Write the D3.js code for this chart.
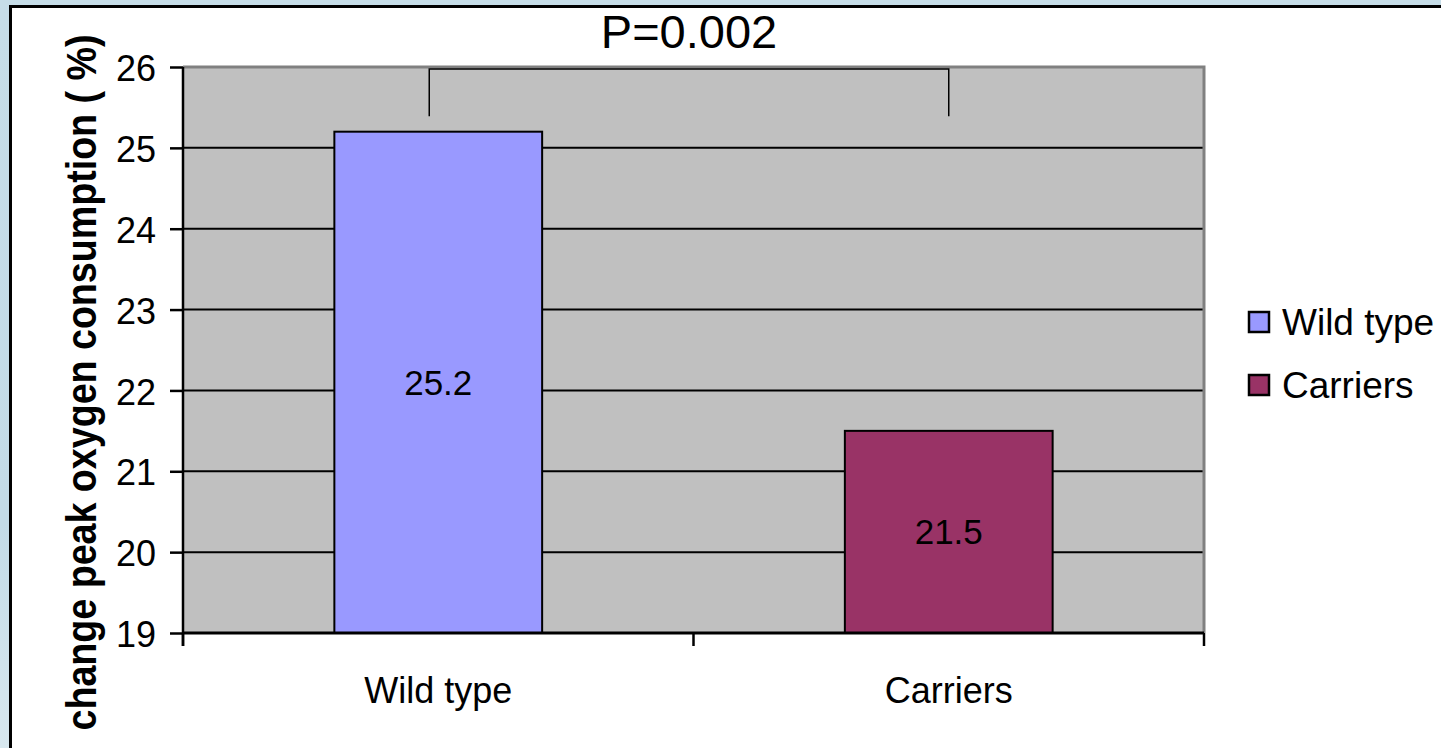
<!DOCTYPE html>
<html>
<head>
<meta charset="utf-8">
<script src="https://cdn.jsdelivr.net/npm/d3@7"></script>
<style>
  html, body { margin: 0; padding: 0; background: #c9dfe9; }
  svg { display: block; }
  text { font-family: "Liberation Sans", Arial, sans-serif; }
</style>
</head>
<body>
<svg id="chart" width="1441" height="748"></svg>
<script>
// ---- data ----
const categories = ["Wild type", "Carriers"];
const values = [25.2, 21.5];
const colors = ["#9999ff", "#993366"];
const yTicks = [19, 20, 21, 22, 23, 24, 25, 26];
const yDomain = [19, 26];
const pLabel = "P=0.002";
const yTitle = "change peak oxygen consumption ( %)";

const svg = d3.select("#chart");
const W = 1441, H = 748;

// background + white panel
const defs = svg.append("defs");
const grad = defs.append("linearGradient").attr("id", "bg").attr("x1", 0).attr("y1", 0).attr("x2", 0).attr("y2", 1);
grad.append("stop").attr("offset", "0").attr("stop-color", "#c6dde8");
grad.append("stop").attr("offset", "0.7").attr("stop-color", "#c3dbe7");
grad.append("stop").attr("offset", "1").attr("stop-color", "#d8e8ef");
svg.append("rect").attr("width", W).attr("height", H).attr("fill", "url(#bg)");
svg.append("rect").attr("x", 10).attr("y", 7).attr("width", W).attr("height", H)
  .attr("fill", "#ffffff");
svg.append("path").attr("d", `M10.5,${H} L10.5,6.5 L${W},6.5`)
  .attr("fill", "none").attr("stroke", "#000").attr("stroke-width", 3);

const L = 183, R = 1204, T = 67, B = 633;

const y = d3.scaleLinear().domain(yDomain).range([B, T]);
const x = d3.scaleBand().domain(categories).range([L, R]).paddingInner(0).paddingOuter(0);
const barW = x.bandwidth() * 0.407;

// plot area
svg.append("rect").attr("x", L).attr("y", T).attr("width", R - L).attr("height", B - T)
  .attr("fill", "#c0c0c0");

// gridlines
svg.append("g").selectAll("line").data(yTicks.filter(d => d !== 19 && d !== 26)).join("line")
  .attr("x1", L).attr("x2", R).attr("y1", d => y(d)).attr("y2", d => y(d))
  .attr("stroke", "#000").attr("stroke-width", 2);

// plot border top/right gray
svg.append("path").attr("d", `M${L},${y(26)} L${R},${y(26)} L${R},${B}`)
  .attr("fill", "none").attr("stroke", "#808080").attr("stroke-width", 3);

// bars
svg.append("g").selectAll("rect").data(categories).join("rect")
  .attr("x", d => x(d) + (x.bandwidth() - barW) / 2)
  .attr("y", (d, i) => y(values[i]))
  .attr("width", barW)
  .attr("height", (d, i) => y(yDomain[0]) - y(values[i]))
  .attr("fill", (d, i) => colors[i])
  .attr("stroke", "#000").attr("stroke-width", 2);

// bar value labels
svg.append("g").selectAll("text").data(categories).join("text")
  .attr("x", d => x(d) + x.bandwidth() / 2)
  .attr("y", (d, i) => (y(values[i]) + y(yDomain[0])) / 2)
  .attr("dy", "0.35em")
  .attr("text-anchor", "middle")
  .attr("font-size", 35)
  .attr("fill", "#000")
  .text((d, i) => values[i].toFixed(1));

// y axis
const yAxis = d3.axisLeft(y).tickValues(yTicks).tickSize(13).tickPadding(14).tickFormat(d3.format("d"));
const gy = svg.append("g").attr("transform", `translate(${L},0)`).call(yAxis);
gy.select(".domain").attr("stroke", "#000").attr("stroke-width", 2.5).attr("d", `M0,${T}V${B + 13}`);
gy.selectAll(".tick line").attr("stroke", "#000").attr("stroke-width", 2.5);
gy.selectAll(".tick text").attr("font-size", 36).attr("fill", "#000")
  .attr("font-family", "'Liberation Sans', Arial, sans-serif").attr("dy", "0.38em");

// x axis
const xTickPos = [L, x(categories[1]), R];
const gx = svg.append("g");
gx.append("line").attr("x1", L).attr("x2", R).attr("y1", B).attr("y2", B)
  .attr("stroke", "#000").attr("stroke-width", 3);
gx.selectAll("line.t").data(xTickPos).join("line").attr("class", "t")
  .attr("x1", d => d).attr("x2", d => d).attr("y1", B).attr("y2", B + 13)
  .attr("stroke", "#000").attr("stroke-width", 2.5);
gx.selectAll("text").data(categories).join("text")
  .attr("x", d => x(d) + x.bandwidth() / 2)
  .attr("y", 703)
  .attr("text-anchor", "middle")
  .attr("font-size", 36)
  .attr("fill", "#000")
  .text(d => d);

// y title (slightly condensed along its length, like the reference)
svg.append("text")
  .attr("transform", `translate(96,${(30 + 735) / 2}) rotate(-90) scale(0.875,1)`)
  .attr("text-anchor", "middle")
  .attr("font-size", 43)
  .attr("font-weight", "bold")
  .attr("fill", "#000")
  .text(yTitle);

// significance bracket
const bx1 = x(categories[0]) + x.bandwidth() / 2 - 9;
const bx2 = x(categories[1]) + x.bandwidth() / 2;
const bTop = y(25.975), bBot = y(25.39);
svg.append("path")
  .attr("d", `M${bx1},${bBot} L${bx1},${bTop} L${bx2},${bTop} L${bx2},${bBot}`)
  .attr("fill", "none").attr("stroke", "#000").attr("stroke-width", 1.5);

svg.append("text")
  .attr("x", (bx1 + bx2) / 2)
  .attr("y", 48)
  .attr("text-anchor", "middle")
  .attr("font-size", 47)
  .attr("fill", "#000")
  .text(pLabel);

// legend
const legend = svg.append("g");
const legY = [312, 375];
categories.forEach((c, i) => {
  legend.append("rect").attr("x", 1249).attr("y", legY[i]).attr("width", 20).attr("height", 20)
    .attr("fill", colors[i]).attr("stroke", "#000").attr("stroke-width", 2.5);
  legend.append("text").attr("x", 1282).attr("y", legY[i] + 23)
    .attr("font-size", 37).attr("fill", "#000").text(c);
});
</script>
</body>
</html>
